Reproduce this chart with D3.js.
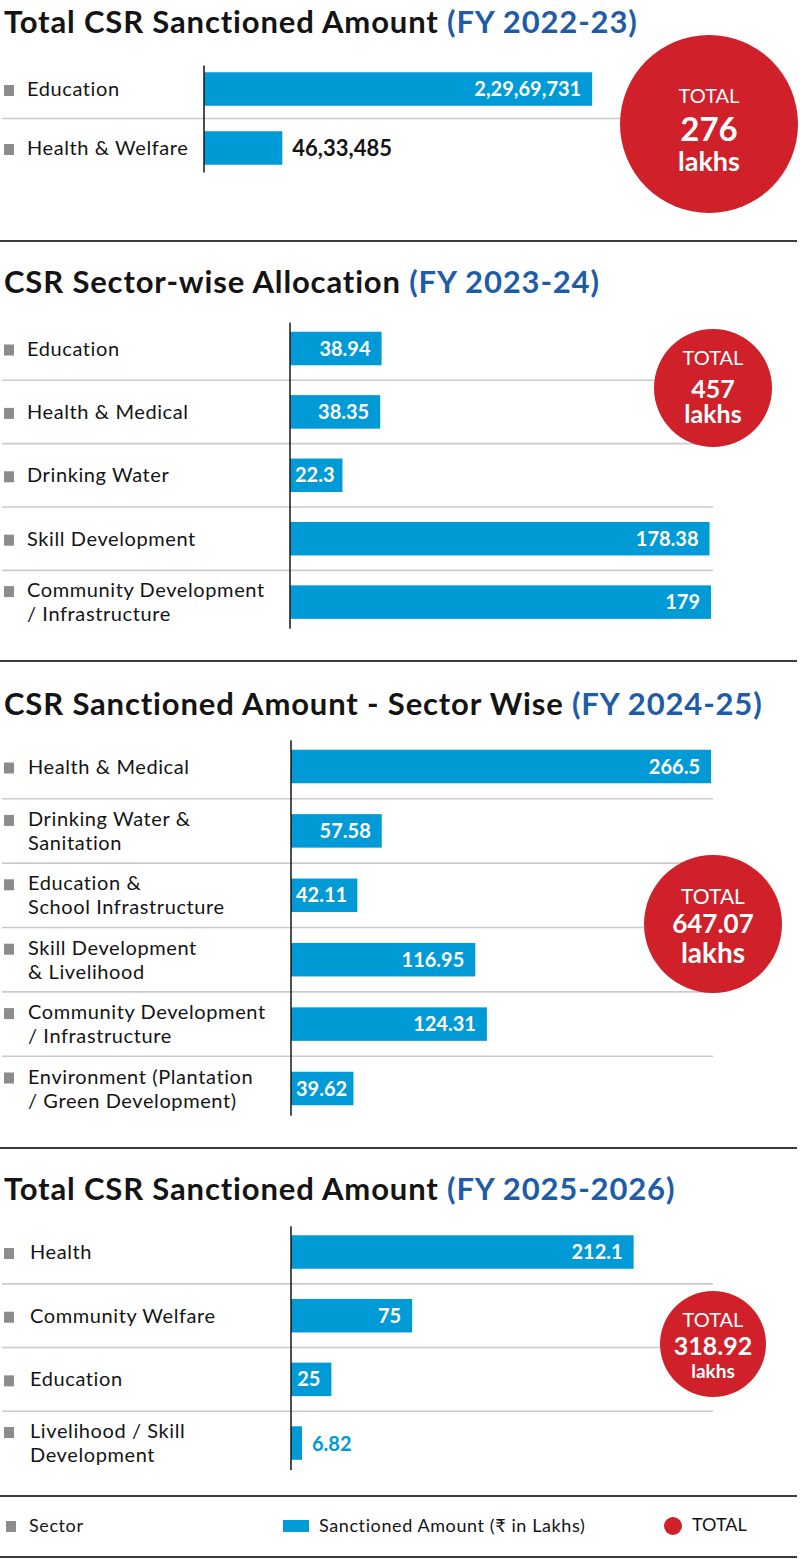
<!DOCTYPE html>
<html>
<head>
<meta charset="utf-8">
<script src="https://cdn.jsdelivr.net/npm/d3@7"></script>
<style>
  body { margin: 0; background: #fff; }
  svg { display: block; font-family: Lato, 'Open Sans', sans-serif; }
</style>
</head>
<body>
<svg width="800" height="1559"></svg>
<script>
// ---- data ----
const titles = ['Total CSR Sanctioned Amount', 'CSR Sector-wise Allocation',
  'CSR Sanctioned Amount - Sector Wise', 'Total CSR Sanctioned Amount'];
const years = ['(FY 2022-23)', '(FY 2023-24)', '(FY 2024-25)', '(FY 2025-2026)'];

const sectors2223 = ['Education', 'Health & Welfare'];
const amounts2223 = [22969731, 4633485];

const sectors2324 = ['Education', 'Health & Medical', 'Drinking Water', 'Skill Development',
  'Community Development\n/ Infrastructure'];
const amounts2324 = [38.94, 38.35, 22.3, 178.38, 179];

const sectors2425 = ['Health & Medical', 'Drinking Water &\nSanitation', 'Education &\nSchool Infrastructure',
  'Skill Development\n& Livelihood', 'Community Development\n/ Infrastructure',
  'Environment (Plantation\n/ Green Development)'];
const amounts2425 = [266.5, 57.58, 42.11, 116.95, 124.31, 39.62];

const sectors2526 = ['Health', 'Community Welfare', 'Education', 'Livelihood / Skill\nDevelopment'];
const amounts2526 = [212.1, 75, 25, 6.82];

const totals = ['276', '457', '647.07', '318.92'];
const legendLabels = ['Sector', 'Sanctioned Amount (₹ in Lakhs)', 'TOTAL'];

// ---- style ----
const blue = '#009bd6';
const titleBlue = '#1f5ca8';
const red = '#d0202a';
const grey = '#8c8c8c';
const ink = '#141414';

// indian digit grouping: 2,29,69,731
const formatIN = n => {
  const s = String(Math.round(n));
  if (s.length <= 3) return s;
  const head = s.slice(0, -3).replace(/\B(?=(\d{2})+(?!\d))/g, ',');
  return head + ',' + s.slice(-3);
};
const formatPlain = n => String(n);

const sections = [
  { sectors: sectors2223, amounts: amounts2223, fmt: formatIN, titleY: 33,
    rowTop: 59.5, step: 59, xMax: 30000000, x0: 204, labelX: 27, outside: ink, outsideSize: 22,
    circle: { cx: 709, cy: 124, r: 89, sizes: [20, 33, 27], dy: [-21, 17, 47] } },
  { sectors: sectors2324, amounts: amounts2324, fmt: formatPlain, titleY: 293,
    rowTop: 316.8, step: 63.4, xMax: 179, x0: 290, labelX: 27, outside: ink, outsideSize: 20,
    circle: { cx: 713, cy: 388, r: 59, sizes: [20, 25, 25], dy: [-23, 10, 35] } },
  { sectors: sectors2425, amounts: amounts2425, fmt: formatPlain, titleY: 715,
    rowTop: 734.3, step: 64.4, xMax: 266.5, x0: 291, labelX: 28, outside: ink, outsideSize: 20,
    circle: { cx: 713, cy: 924, r: 69, sizes: [21, 26, 28], dy: [-20, 9, 39] } },
  { sectors: sectors2526, amounts: amounts2526, fmt: formatPlain, titleY: 1200,
    rowTop: 1220.2, step: 63.67, xMax: 260, x0: 291, labelX: 30, outside: blue, outsideSize: 20,
    circle: { cx: 713, cy: 1344, r: 53, sizes: [20, 25, 19], dy: [-17, 11, 34] } }
];

const svg = d3.select('svg');
const xEnd = 711;
const barH = 33.5;

sections.forEach((sec, si) => {
  const n = sec.sectors.length;
  const g = svg.append('g');

  const y = d3.scaleBand()
    .domain(sec.sectors)
    .range([sec.rowTop, sec.rowTop + n * sec.step])
    .paddingInner(1 - barH / sec.step)
    .paddingOuter((1 - barH / sec.step) / 2);

  const x = d3.scaleLinear()
    .domain([0, sec.xMax])
    .range([sec.x0, xEnd]);

  // title
  const t = g.append('text')
    .attr('x', 4)
    .attr('y', sec.titleY)
    .attr('font-size', 31)
    .attr('font-weight', 700)
    .attr('letter-spacing', 0.85);
  t.append('tspan').attr('fill', ink).text(titles[si] + ' ');
  t.append('tspan').attr('fill', titleBlue).text(years[si]);

  // row dividers
  g.selectAll('.grid')
    .data(d3.range(1, n))
    .join('line')
      .attr('x1', 2)
      .attr('x2', xEnd + 2)
      .attr('y1', i => sec.rowTop + i * sec.step)
      .attr('y2', i => sec.rowTop + i * sec.step)
      .attr('stroke', '#cbcbcb')
      .attr('stroke-width', 1.6);

  const rows = sec.sectors.map((s, i) => ({ sector: s, value: sec.amounts[i] }));

  // bars
  g.selectAll('.bar')
    .data(rows)
    .join('rect')
      .attr('x', x(0))
      .attr('y', d => y(d.sector))
      .attr('width', d => x(d.value) - x(0))
      .attr('height', y.bandwidth())
      .attr('fill', blue);

  // axis line
  g.append('line')
    .attr('x1', x(0)).attr('x2', x(0))
    .attr('y1', sec.rowTop + 6)
    .attr('y2', sec.rowTop + n * sec.step - 5)
    .attr('stroke', ink)
    .attr('stroke-width', 1.5);

  // sector labels
  rows.forEach(d => {
    const mid = y(d.sector) + y.bandwidth() / 2;
    const lines = d.sector.split('\n');
    const base = lines.length > 1 ? mid - 5 : mid + 7;
    g.append('rect')
      .attr('x', 4).attr('y', base - 11)
      .attr('width', 10).attr('height', 11)
      .attr('fill', grey);
    const lbl = g.append('text')
      .attr('x', sec.labelX)
      .attr('y', base)
      .attr('font-size', 20)
      .attr('letter-spacing', 0.6)
      .attr('fill', ink);
    lines.forEach((l, li) => {
      lbl.append('tspan')
        .attr('x', sec.labelX)
        .attr('dy', li ? 24 : 0)
        .text(l);
    });
  });

  // value labels
  rows.forEach(d => {
    const mid = y(d.sector) + y.bandwidth() / 2;
    const txt = g.append('text')
      .attr('y', mid + 7)
      .attr('font-size', 20)
      .attr('font-weight', 700)
      .text(sec.fmt(d.value));
    const w = txt.node().getComputedTextLength();
    const bw = x(d.value) - x(0);
    if (w + 8 <= bw) {
      const pad = Math.min(11, bw - w - 5);
      txt.attr('x', x(d.value) - pad).attr('text-anchor', 'end').attr('fill', '#fff');
    } else {
      txt.attr('x', x(d.value) + 10)
        .attr('y', mid + 8)
        .attr('font-size', sec.outsideSize)
        .attr('fill', sec.outside);
    }
  });

  // total bubble
  const c = sec.circle;
  g.append('circle')
    .attr('cx', c.cx).attr('cy', c.cy).attr('r', c.r)
    .attr('fill', red);
  const bubble = g.append('text')
    .attr('x', c.cx)
    .attr('y', c.cy + c.dy[0])
    .attr('text-anchor', 'middle')
    .attr('fill', '#fff');
  ['TOTAL', totals[si], 'lakhs'].forEach((s, k) => {
    bubble.append('tspan')
      .attr('x', c.cx)
      .attr('dy', k ? c.dy[k] - c.dy[k - 1] : 0)
      .attr('font-size', c.sizes[k])
      .attr('font-weight', k === 0 ? 400 : 700)
      .text(s);
  });
});

// section separators
svg.selectAll('.sep')
  .data([241, 661, 1148, 1496, 1557])
  .join('line')
    .attr('x1', 0).attr('x2', 797)
    .attr('y1', d => d).attr('y2', d => d)
    .attr('stroke', '#3c3c3c')
    .attr('stroke-width', 2);

// legend
const lg = svg.append('g');
lg.append('rect').attr('x', 6).attr('y', 1521).attr('width', 10).attr('height', 11).attr('fill', grey);
lg.append('rect').attr('x', 283).attr('y', 1520).attr('width', 26).attr('height', 12).attr('fill', blue);
lg.append('circle').attr('cx', 673).attr('cy', 1526).attr('r', 9).attr('fill', red);
lg.selectAll('.lt')
  .data(legendLabels.map((s, i) => ({ s, x: [29, 319, 692][i], y: [1532, 1532, 1531][i], ls: [0.6, 0.6, 0][i] })))
  .join('text')
    .attr('x', d => d.x)
    .attr('y', d => d.y)
    .attr('font-size', 18)
    .attr('letter-spacing', d => d.ls)
    .attr('fill', ink)
    .text(d => d.s);
</script>
</body>
</html>
